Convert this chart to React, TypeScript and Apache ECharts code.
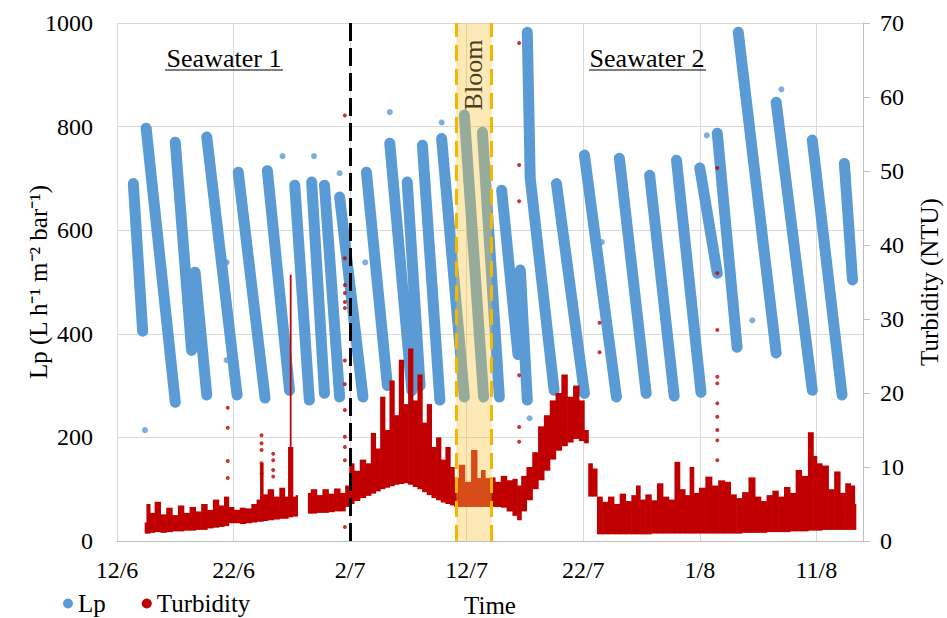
import React, { useEffect, useRef } from 'react';
import * as echarts from 'echarts';

// x values are days counted from 12 June
const xTickLabels = ['12/6', '22/6', '2/7', '12/7', '22/7', '1/8', '11/8'];
const phaseChangeDay = 20; // 2/7
const bloomPeriod = [29.1, 32.15];

// Lp filtration cycles: each cycle is a run of [day, Lp] points
const lpCycles: Array<Array<[number, number]>> = [
  [[1.4, 690], [2.2, 405]],
  [[2.5, 797], [5.0, 268]],
  [[5.0, 770], [6.4, 368]],
  [[6.7, 519], [7.7, 282]],
  [[7.7, 780], [10.3, 282]],
  [[10.4, 712], [12.7, 276]],
  [[12.9, 715], [14.8, 291]],
  [[15.25, 687], [16.5, 272]],
  [[16.7, 693], [17.8, 285]],
  [[17.8, 687], [19.1, 278]],
  [[19.1, 664], [21.1, 278]],
  [[21.4, 712], [23.2, 300]],
  [[23.4, 768], [25.3, 290]],
  [[24.9, 693], [26.0, 300]],
  [[26.2, 764], [27.7, 272]],
  [[27.85, 777], [29.8, 278]],
  [[29.8, 822], [31.45, 278]],
  [[31.35, 789], [32.8, 278]],
  [[33.0, 677], [34.4, 360]],
  [[34.6, 523], [35.2, 272]],
  [[35.2, 982], [35.45, 700], [37.5, 291]],
  [[37.7, 690], [40.1, 285]],
  [[40.1, 745], [42.85, 278]],
  [[43.1, 739], [45.4, 285]],
  [[45.7, 706], [47.8, 280]],
  [[48.0, 735], [50.1, 287]],
  [[50.0, 720], [51.5, 517]],
  [[51.5, 787], [53.2, 374]],
  [[53.3, 982], [56.55, 363]],
  [[56.55, 847], [59.65, 291]],
  [[59.65, 774], [62.2, 282]],
  [[62.4, 729], [63.1, 504]],
];

const lpOutliers: Array<[number, number]> = [
  [2.4, 214], [9.4, 538], [9.4, 349], [19.1, 710], [21.3, 538], [23.4, 828],
  [27.85, 808], [35.4, 237], [41.6, 577], [54.5, 426], [57.0, 872], [50.6, 783],
  [14.2, 743], [16.9, 743],
];

// Turbidity band: [day, lower NTU, upper NTU]
const turbiditySeg1: Array<[number, number, number]> = [
  [2.4, 1.0, 2.5], [2.7, 1.0, 5.0], [3.0, 1.1, 3.8], [3.5, 1.2, 5.3], [4.0, 1.1, 3.6],
  [4.5, 1.2, 4.5], [5.0, 1.3, 3.5], [5.5, 1.3, 4.8], [6.0, 1.4, 3.8], [6.5, 1.4, 4.6],
  [7.0, 1.5, 4.0], [7.5, 1.5, 5.0], [8.0, 1.7, 4.2], [8.5, 1.8, 5.6], [9.0, 1.9, 4.8],
  [9.4, 2.0, 6.0], [9.8, 2.4, 4.6], [10.3, 2.4, 4.2], [10.8, 2.3, 4.5], [11.3, 2.4, 4.4],
  [11.8, 2.5, 5.0], [12.2, 2.6, 5.6], [12.4, 2.6, 10.5], [12.7, 2.7, 6.3], [13.2, 2.8, 7.0],
  [13.7, 2.9, 6.0], [14.2, 3.0, 7.2], [14.6, 3.0, 6.0], [14.8, 3.2, 12.7], [14.9, 3.2, 36.0],
  [15.0, 3.2, 12.7], [15.2, 3.3, 6.0], [15.5, 3.3, 6.2],
];
const turbiditySeg2: Array<[number, number, number]> = [
  [16.4, 3.7, 6.5], [16.9, 3.7, 7.0], [17.4, 3.8, 6.2], [17.9, 3.8, 7.0], [18.4, 3.9, 6.4],
  [18.9, 4.0, 7.1], [19.4, 4.0, 6.5], [19.8, 4.6, 7.5], [20.1, 5.0, 10.5], [20.6, 5.4, 9.5],
  [21.1, 5.8, 11.0], [21.6, 6.1, 10.5], [22.0, 6.4, 14.6], [22.4, 6.7, 12.5], [22.8, 7.0, 19.5],
  [23.2, 7.2, 15.0], [23.6, 7.4, 21.7], [24.0, 7.6, 17.0], [24.4, 7.7, 24.5], [24.8, 7.8, 18.5],
  [25.2, 7.6, 26.0], [25.6, 7.3, 19.0], [26.0, 7.0, 22.5], [26.4, 6.6, 16.0], [26.8, 6.2, 18.5],
  [27.2, 5.8, 12.7], [27.6, 5.5, 14.0], [28.0, 5.2, 11.0], [28.4, 5.0, 12.7], [28.8, 4.8, 10.0],
  [29.1, 4.6, 8.5], [29.6, 4.6, 10.3], [30.1, 4.6, 8.0], [30.7, 4.6, 12.3], [31.1, 4.6, 8.5],
  [31.4, 4.6, 9.6], [31.8, 4.6, 8.5], [32.2, 4.6, 8.6], [32.7, 4.6, 8.0], [33.2, 4.5, 8.8],
  [33.7, 4.0, 8.2], [34.2, 3.4, 8.4], [34.5, 2.8, 7.5], [34.9, 4.0, 8.8], [35.4, 5.5, 10.0],
  [35.9, 7.0, 12.0], [36.4, 8.2, 15.5], [36.9, 9.5, 17.0], [37.4, 11.0, 19.0], [37.9, 12.2, 20.0],
  [38.4, 12.8, 22.5], [38.9, 13.3, 19.5], [39.4, 13.8, 21.0], [39.9, 13.5, 19.0], [40.3, 13.2, 15.0],
  [40.6, 6.0, 10.5], [41.0, 6.0, 9.8], [41.4, 0.9, 6.0], [41.9, 0.9, 5.3], [42.4, 0.9, 6.0],
  [42.9, 0.9, 5.0], [43.4, 0.9, 6.4], [43.9, 0.9, 5.4], [44.4, 0.9, 6.2], [44.7, 0.9, 7.5],
  [45.1, 0.9, 5.6], [45.6, 0.9, 6.3], [46.1, 1.0, 5.5], [46.6, 1.0, 7.8], [47.1, 1.0, 6.0],
  [47.6, 1.0, 5.6], [48.1, 1.0, 10.7], [48.5, 1.0, 7.0], [49.0, 1.0, 6.2], [49.3, 1.0, 10.0],
  [49.7, 1.0, 6.5], [50.2, 1.0, 7.2], [50.8, 1.0, 8.7], [51.3, 1.0, 7.5], [51.9, 1.0, 8.2],
  [52.4, 1.0, 8.0], [52.9, 1.0, 6.3], [53.4, 1.0, 5.8], [53.9, 1.1, 6.6], [54.5, 1.1, 8.6],
  [55.0, 1.1, 6.0], [55.5, 1.1, 5.4], [56.0, 1.2, 6.2], [56.5, 1.2, 6.8], [57.0, 1.2, 6.0],
  [57.5, 1.2, 7.3], [58.0, 1.3, 6.5], [58.5, 1.3, 9.6], [59.0, 1.3, 8.8], [59.6, 1.4, 14.7],
  [59.9, 1.4, 11.5], [60.2, 1.4, 10.5], [60.8, 1.5, 10.2], [61.3, 1.5, 7.0], [61.8, 1.5, 9.4],
  [62.3, 1.5, 6.5], [62.7, 1.5, 7.8], [63.2, 1.5, 7.5], [63.4, 1.5, 5.0],
];

const turbidityOutliers: Array<[number, number]> = [
  [9.5, 18.0], [9.5, 15.3], [9.5, 10.8], [9.5, 8.5],
  [12.4, 14.3], [12.4, 13.2], [12.4, 12.3], [12.4, 10.5], [12.4, 9.1],
  [13.4, 11.8], [13.4, 10.9], [13.4, 9.6], [13.4, 8.7],
  [19.55, 57.5], [19.55, 38.2], [19.55, 34.6], [19.55, 33.5], [19.55, 32.3], [19.55, 31.5],
  [19.55, 24.4], [19.55, 21.2], [19.55, 17.7], [19.55, 14.1], [19.55, 12.7], [19.55, 10.9], [19.55, 1.9],
  [34.5, 67.3], [34.5, 50.8], [34.5, 45.9], [34.5, 22.4], [34.5, 15.4], [34.5, 13.4],
  [41.4, 29.5], [41.4, 25.5],
  [51.5, 50.4], [51.5, 36.2], [51.5, 28.5], [51.5, 22.2], [51.5, 21.3], [51.5, 18.6],
  [51.5, 16.8], [51.5, 15.0], [51.5, 13.6], [51.5, 10.9],
];

const BLUE = '#5B9BD5';
const RED = '#C00000';
const FONT = '"Liberation Serif", "Times New Roman", serif';

// Each band reading becomes a [from, to, low, high] column reaching halfway to its neighbours
function toColumns(seg: Array<[number, number, number]>) {
  return seg.map(([d, l, h], i) => {
    const from = i === 0 ? d : (seg[i - 1][0] + d) / 2;
    const to = i === seg.length - 1 ? d : (d + seg[i + 1][0]) / 2;
    return [from, to, l, h];
  });
}

function buildOption(): any {
  const lpLine: any[] = [];
  lpCycles.forEach((c) => {
    c.forEach((p) => lpLine.push(p));
    lpLine.push(['-', '-']);
  });

  const turbColumns = [...toColumns(turbiditySeg1), ...toColumns(turbiditySeg2)];

  return {
    animation: false,
    backgroundColor: '#fff',
    grid: { left: 117, right: 84, top: 23, bottom: 77, containLabel: false, outerBoundsMode: 'none' },
    legend: {
      left: 58,
      top: 586,
      itemWidth: 10,
      itemHeight: 10,
      itemGap: 36,
      textStyle: { fontFamily: FONT, fontSize: 25, color: '#000' },
      data: [
        { name: 'Lp', icon: 'circle' },
        { name: 'Turbidity', icon: 'circle' },
      ],
    },
    xAxis: {
      type: 'value',
      min: 0,
      max: 64,
      interval: 10,
      name: 'Time',
      nameLocation: 'middle',
      nameGap: 52,
      nameMoveOverlap: false,
      nameTextStyle: { fontFamily: FONT, fontSize: 25, color: '#000' },
      axisLine: { show: true, lineStyle: { color: '#BFBFBF', width: 1 } },
      axisTick: { show: false },
      axisLabel: {
        fontFamily: FONT,
        fontSize: 24,
        color: '#000',
        margin: 17,
        showMaxLabel: false,
        formatter: (v: number) => (v % 10 === 0 ? xTickLabels[v / 10] ?? '' : ''),
      },
      splitLine: { show: true, lineStyle: { color: '#D9D9D9', width: 1 } },
    },
    yAxis: [
      {
        type: 'value',
        min: 0,
        max: 1000,
        interval: 200,
        position: 'left',
        name: 'Lp (L h\u207B\u00B9 m\u207B\u00B2 bar\u207B\u00B9)',
        nameLocation: 'middle',
        nameRotate: 90,
        nameGap: 66,
        nameMoveOverlap: false,
        nameTextStyle: { fontFamily: FONT, fontSize: 25, color: '#000' },
        axisLine: { show: false },
        axisTick: { show: false },
        axisLabel: {
          fontFamily: FONT,
          fontSize: 24,
          color: '#000',
          margin: 24,
          formatter: (v: number) => String(v),
        },
        splitLine: { show: true, lineStyle: { color: '#D9D9D9', width: 1 } },
      },
      {
        type: 'value',
        min: 0,
        max: 70,
        interval: 10,
        position: 'right',
        name: 'Turbidity (NTU)',
        nameLocation: 'middle',
        nameRotate: 90,
        nameGap: 54,
        nameMoveOverlap: false,
        nameTextStyle: { fontFamily: FONT, fontSize: 25, color: '#000' },
        axisLine: { show: true, lineStyle: { color: '#BFBFBF', width: 1 } },
        axisTick: { show: true, length: 7, lineStyle: { color: '#BFBFBF' } },
        axisLabel: { fontFamily: FONT, fontSize: 24, color: '#000', margin: 17 },
        splitLine: { show: false },
      },
    ],
    series: [
      {
        name: 'Lp',
        type: 'line',
        symbol: 'none',
        connectNulls: false,
        itemStyle: { color: BLUE },
        lineStyle: { color: BLUE, width: 11, cap: 'round', join: 'round' },
        data: lpLine,
        z: 2,
      },
      {
        name: 'Lp',
        type: 'scatter',
        symbolSize: 6,
        itemStyle: { color: BLUE },
        data: lpOutliers,
        z: 2,
      },
      {
        name: 'Turbidity',
        type: 'custom',
        yAxisIndex: 1,
        itemStyle: { color: RED },
        encode: { x: [0, 1], y: [2, 3] },
        data: turbColumns,
        z: 3,
        renderItem: (params: any, api: any) => {
          const p1 = api.coord([api.value(0), api.value(3)]);
          const p2 = api.coord([api.value(1), api.value(2)]);
          return {
            type: 'rect',
            shape: { x: p1[0] - 0.3, y: p1[1], width: p2[0] - p1[0] + 0.6, height: p2[1] - p1[1] },
            style: { fill: RED },
          };
        },
      },
      {
        name: 'Turbidity',
        type: 'scatter',
        yAxisIndex: 1,
        symbolSize: 4,
        itemStyle: { color: RED },
        data: turbidityOutliers,
        z: 3,
      },
      {
        name: 'markers',
        type: 'line',
        data: [],
        z: 10,
        markArea: {
          silent: true,
          z: 10,
          itemStyle: { color: 'rgba(250, 198, 60, 0.38)' },
          label: { show: false },
          data: [[{ xAxis: bloomPeriod[0] }, { xAxis: bloomPeriod[1] }]],
        },
        markLine: {
          silent: true,
          z: 11,
          symbol: ['none', 'none'],
          label: { show: false },
          data: [
            { xAxis: phaseChangeDay, lineStyle: { color: '#000', width: 3, type: [18, 7] } },
            { xAxis: bloomPeriod[0], lineStyle: { color: '#F5B800', width: 3, type: [16, 8] } },
            { xAxis: bloomPeriod[1], lineStyle: { color: '#F5B800', width: 3, type: [16, 8] } },
          ],
        },
      },
    ],
    graphic: [
      {
        type: 'text',
        x: 224,
        y: 58,
        z: 20,
        style: {
          text: 'Seawater 1',
          fontFamily: FONT,
          fontSize: 26,
          fill: '#000',
          align: 'center',
          verticalAlign: 'middle',
          textAlign: 'center',
          textVerticalAlign: 'middle',
        },
      },
      {
        type: 'line',
        z: 20,
        shape: { x1: 165, y1: 70, x2: 283, y2: 70 },
        style: { stroke: '#000', lineWidth: 1.2 },
      },
      {
        type: 'text',
        x: 647,
        y: 58,
        z: 20,
        style: {
          text: 'Seawater 2',
          fontFamily: FONT,
          fontSize: 26,
          fill: '#000',
          align: 'center',
          verticalAlign: 'middle',
          textAlign: 'center',
          textVerticalAlign: 'middle',
        },
      },
      {
        type: 'line',
        z: 20,
        shape: { x1: 589, y1: 70, x2: 706, y2: 70 },
        style: { stroke: '#000', lineWidth: 1.2 },
      },
      {
        type: 'text',
        x: 473,
        y: 75,
        rotation: Math.PI / 2,
        z: 20,
        style: {
          text: 'Bloom',
          fontFamily: FONT,
          fontSize: 26,
          fill: '#4A3F1F',
          align: 'center',
          verticalAlign: 'middle',
          textAlign: 'center',
          textVerticalAlign: 'middle',
        },
      },
    ],
  };
}

export default function App() {
  const ref = useRef<HTMLDivElement>(null);
  useEffect(() => {
    if (!ref.current) return;
    const chart = echarts.init(ref.current, null, { renderer: 'svg' });
    chart.setOption(buildOption());
    return () => chart.dispose();
  }, []);
  return (
    <div
      ref={ref}
      style={{ position: 'fixed', left: 0, top: 0, width: 947, height: 618, background: '#fff' }}
    />
  );
}
